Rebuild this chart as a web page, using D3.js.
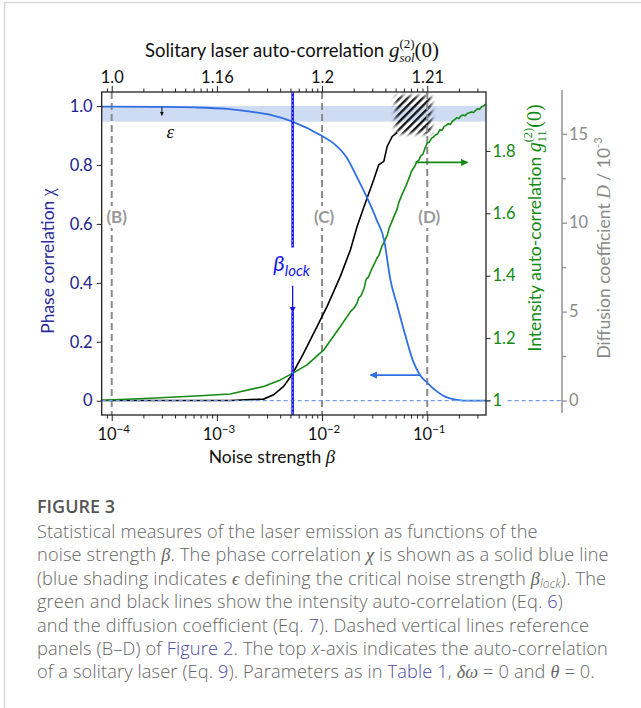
<!DOCTYPE html>
<html>
<head>
<meta charset="utf-8">
<script src="https://cdn.jsdelivr.net/npm/d3@7"></script>
<style>
body { margin: 0; background: #fff; }
text { font-family: Lato, "Open Sans", sans-serif; }
</style>
</head>
<body>
<div id="chart"></div>
<script>
// phase correlation chi (blue), x given as log10 of noise strength beta
var chiLogBeta = [-4.095, -4.0, -3.6, -3.2, -2.9, -2.68, -2.49, -2.28, -2.0, -1.89, -1.76, -1.67, -1.57, -1.48, -1.41,
  -1.35, -1.283, -1.207, -1.13, -1.064, -0.997, -0.921, -0.826, -0.73, -0.587, -0.441];
var chiValues = [0.998, 0.998, 0.997, 0.995, 0.99, 0.981, 0.97, 0.947, 0.898, 0.873, 0.822, 0.76, 0.687, 0.613, 0.545,
  0.41, 0.32, 0.22, 0.13, 0.085, 0.06, 0.035, 0.013, 0.004, 0.0, 0.0];

// diffusion coefficient D / 1e-3 (black)
var diffLogBeta = [-4.095, -3.5, -2.873, -2.556, -2.461, -2.366, -2.286, -2.175, -2.048, -1.952, -1.826, -1.73, -1.667,
  -1.588, -1.509, -1.461, -1.413, -1.381, -1.333, -1.286];
var diffValues = [0, 0, 0, 0.08, 0.32, 0.79, 1.45, 2.66, 4.16, 5.29, 6.98, 8.48, 9.79, 11.12, 12.41, 13.26, 13.45,
  14.29, 14.85, 15.06];

// intensity auto-correlation g11(2)(0) (green)
var gLogBeta = [-4.095, -3.635, -3.159, -2.873, -2.556, -2.397, -2.286, -2.143, -1.984, -1.826, -1.73,
  -1.70, -1.67, -1.65, -1.63, -1.60, -1.58, -1.56, -1.53, -1.50, -1.48, -1.46, -1.43, -1.40, -1.38, -1.36, -1.34,
  -1.31, -1.29, -1.27, -1.24, -1.22, -1.20, -1.17, -1.15, -1.12, -1.10, -1.08, -1.06, -1.04, -1.02, -1.00, -0.98,
  -0.96, -0.94, -0.92, -0.90, -0.88, -0.86, -0.84, -0.82, -0.80, -0.78, -0.76, -0.74, -0.72, -0.70, -0.68, -0.66,
  -0.64, -0.62, -0.60, -0.58, -0.56, -0.54, -0.52, -0.50, -0.48, -0.46, -0.445];
var gValues = [1.001, 1.007, 1.015, 1.021, 1.045, 1.066, 1.086, 1.114, 1.162, 1.237, 1.285,
  1.295, 1.31, 1.33, 1.335, 1.36, 1.39, 1.395, 1.42, 1.44, 1.455, 1.465, 1.495, 1.515, 1.53, 1.555, 1.57,
  1.595, 1.61, 1.635, 1.66, 1.675, 1.69, 1.715, 1.735, 1.75, 1.765, 1.77, 1.785, 1.79, 1.81, 1.825, 1.828,
  1.84, 1.845, 1.852, 1.855, 1.868, 1.866, 1.878, 1.882, 1.887, 1.885, 1.895, 1.9, 1.906, 1.904, 1.912, 1.915,
  1.913, 1.92, 1.922, 1.925, 1.923, 1.93, 1.935, 1.934, 1.942, 1.945, 1.95];

// reference lines and labels
var refBetas = [1e-4, 1e-2, 1e-1];
var refLabels = ["(B)", "(C)", "(D)"];
var betaLock = 5.25e-3;
var epsilon = 0.053;

// tick values / labels
var bottomDecades = [1e-4, 1e-3, 1e-2, 1e-1];
var bottomExponents = ["\u22124", "\u22123", "\u22122", "\u22121"];
var topLabels = ["1.0", "1.16", "1.2", "1.21"];
var chiTicks = [0, 0.2, 0.4, 0.6, 0.8, 1.0];
var chiTickLabels = ["0", "0.2", "0.4", "0.6", "0.8", "1.0"];
var gTicks = [1, 1.2, 1.4, 1.6, 1.8];
var gTickLabels = ["1", "1.2", "1.4", "1.6", "1.8"];
var dMajor = [0, 5, 10, 15];
var dMinor = [2.5, 7.5, 12.5];

var captionLines = [
  [["Statistical measures of the laser emission as functions of the"]],
  [["noise strength "], ["\u03b2", "m"], [". The phase correlation "], ["\u03c7", "m"], [" is shown as a solid blue line"]],
  [["(blue shading indicates "], ["\u03f5", "m"], [" defining the critical noise strength "], ["\u03b2", "m"], ["lock", "s"], ["). The", "u"]],
  [["green and black lines show the intensity auto-correlation (Eq. "], ["6", "l"], [")"]],
  [["and the diffusion coefficient (Eq. "], ["7", "l"], ["). Dashed vertical lines reference"]],
  [["panels (B\u2013D) of "], ["Figure 2", "l"], [". The top "], ["x", "i"], ["-axis indicates the auto-correlation"]],
  [["of a solitary laser (Eq. "], ["9", "l"], ["). Parameters as in "], ["Table 1", "l"], [", "], ["\u03b4\u03c9", "m"], [" = 0 and "], ["\u03b8", "m"], [" = 0."]]
];

var W = 641, H = 708;
var pL = 101.7, pR = 486, pT = 92, pB = 415;

var svg = d3.select("#chart").append("svg")
  .attr("width", W).attr("height", H);

var colBlue = "#2f6fe4", colNavy = "#22228c", colGreen = "#148a14", colGray = "#8a8a8a", colLock = "#1414f0";

// scales
var x = d3.scaleLog().domain([8.03e-5, 0.362]).range([pL, pR]);
var yChi = d3.scaleLinear().domain([-0.0485, 1.0475]).range([pB, pT]);
var yG = d3.scaleLinear().domain([0.9535, 1.9888]).range([pB, pT]);
var yD = d3.scaleLinear().domain([-0.815, 17.35]).range([pB, pT]);

// card border
svg.append("path").attr("d", "M4.5," + H + "V2.5H" + W)
  .attr("fill", "none").attr("stroke", "#d8d8d8").attr("stroke-width", 1.5);

var defs = svg.append("defs");
defs.append("clipPath").attr("id", "plotClip").append("rect")
  .attr("x", pL).attr("y", pT).attr("width", pR - pL).attr("height", pB - pT);

// hatch pattern for the region where D leaves the plot
var pat = defs.append("pattern").attr("id", "hatch").attr("patternUnits", "userSpaceOnUse")
  .attr("width", 5.4).attr("height", 5.4).attr("patternTransform", "rotate(45)");
pat.append("rect").attr("x", 0).attr("y", 0).attr("width", 2.3).attr("height", 5.4).attr("fill", "#111");
var blurF = defs.append("filter").attr("id", "soft").attr("x", "-30%").attr("y", "-30%").attr("width", "160%").attr("height", "160%");
blurF.append("feGaussianBlur").attr("stdDeviation", 2);
var mask = defs.append("mask").attr("id", "hatchMask").attr("maskUnits", "userSpaceOnUse")
  .attr("x", 0).attr("y", 0).attr("width", W).attr("height", H);

// arrow markers
function marker(id, color, w, h) {
  defs.append("marker").attr("id", id).attr("viewBox", "0 0 10 10").attr("refX", 9).attr("refY", 5)
    .attr("markerWidth", w).attr("markerHeight", h).attr("orient", "auto-start-reverse")
    .append("path").attr("d", "M0,0L10,5L0,10z").attr("fill", color);
}
marker("arrGreen", colGreen, 4, 4);
marker("arrBlue", colBlue, 4, 4);
marker("arrLock", colLock, 4.5, 4.5);
marker("arrBlack", "#111", 4, 4);

var plot = svg.append("g").attr("clip-path", "url(#plotClip)");

// epsilon band
plot.append("rect")
  .attr("x", pL).attr("width", pR - pL)
  .attr("y", yChi(1.0)).attr("height", yChi(1.0 - epsilon) - yChi(1.0))
  .attr("fill", "#cddbf3");

// hatched box
var hx0 = x(Math.pow(10, -1.331)), hx1 = x(Math.pow(10, -0.93));
var hy0 = yD(17.3), hy1 = yD(14.83);
mask.append("rect").attr("x", hx0 + 3).attr("y", hy0 + 3).attr("width", hx1 - hx0 - 6).attr("height", hy1 - hy0 - 6)
  .attr("fill", "#fff").attr("filter", "url(#soft)");
plot.append("rect").attr("x", hx0 - 4).attr("y", hy0 - 4).attr("width", hx1 - hx0 + 8).attr("height", hy1 - hy0 + 8)
  .attr("fill", "url(#hatch)").attr("mask", "url(#hatchMask)");

// dashed reference lines
refBetas.forEach(function(b) {
  plot.append("line").attr("x1", x(b)).attr("x2", x(b)).attr("y1", pT).attr("y2", pB)
    .attr("stroke", colGray).attr("stroke-width", 2).attr("stroke-dasharray", "7,4");
});

// zero line (chi = 0, g = 1, D = 0)
svg.append("line").attr("x1", pL).attr("x2", 562).attr("y1", yChi(0)).attr("y2", yChi(0))
  .attr("stroke", "#6f9de6").attr("stroke-width", 1.2).attr("stroke-dasharray", "4,3");

// curves
var chiLine = d3.line().x(function(d, i) { return x(Math.pow(10, chiLogBeta[i])); }).y(function(d) { return yChi(d); });
var dLine = d3.line().x(function(d, i) { return x(Math.pow(10, diffLogBeta[i])); }).y(function(d) { return yD(d); });
var gLine = d3.line().x(function(d, i) { return x(Math.pow(10, gLogBeta[i])); }).y(function(d) { return yG(d); });

plot.append("path").datum(diffValues).attr("d", dLine)
  .attr("fill", "none").attr("stroke", "#000").attr("stroke-width", 1.6);
plot.append("path").datum(gValues).attr("d", gLine)
  .attr("fill", "none").attr("stroke", colGreen).attr("stroke-width", 1.6).attr("stroke-linejoin", "round");
plot.append("path").datum(chiValues).attr("d", chiLine.curve(d3.curveMonotoneX))
  .attr("fill", "none").attr("stroke", colBlue).attr("stroke-width", 1.8);

// reference labels on white
refBetas.forEach(function(b, i) {
  var cx = x(b) + (i === 0 ? 5 : 2);
  svg.append("rect").attr("x", cx - 13).attr("y", 206).attr("width", 26).attr("height", 22).attr("fill", "#fff");
  svg.append("text").attr("x", cx).attr("y", 223).attr("text-anchor", "middle")
    .attr("fill", "#999").style("font-size", "17px").style("font-weight", "bold").text(refLabels[i]);
});

// beta lock line
var xl = x(betaLock);
[[pT, yChi(0.52)], [yChi(0.302), pB]].forEach(function(seg) {
  svg.append("line").attr("x1", xl).attr("x2", xl).attr("y1", seg[0]).attr("y2", seg[1])
    .attr("stroke", colLock).attr("stroke-width", 2.6);
  svg.append("line").attr("x1", xl).attr("x2", xl).attr("y1", seg[0]).attr("y2", seg[1])
    .attr("stroke", "#9fb0ff").attr("stroke-width", 0.8).attr("stroke-dasharray", "2,2");
});
svg.append("line").attr("x1", xl).attr("x2", xl).attr("y1", yChi(0.39)).attr("y2", yChi(0.3))
  .attr("stroke", colLock).attr("stroke-width", 1.3).attr("marker-end", "url(#arrLock)");
var lockT = svg.append("text").attr("x", xl - 1).attr("y", 271).attr("text-anchor", "middle").attr("fill", colLock);
lockT.append("tspan").text("\u03b2").style("font-style", "italic").style("font-size", "22px");
lockT.append("tspan").text("lock").style("font-style", "italic").style("font-size", "15px").attr("dy", 5);

// epsilon arrow + label
svg.append("line").attr("x1", x(3.0e-4)).attr("x2", x(3.0e-4)).attr("y1", yChi(0.996)).attr("y2", yChi(0.968))
  .attr("stroke", "#111").attr("stroke-width", 1).attr("marker-end", "url(#arrBlack)");
svg.append("text").attr("x", x(3.6e-4)).attr("y", yChi(0.893)).attr("text-anchor", "middle")
  .style("font-family", "'Liberation Serif', serif").style("font-style", "italic").style("font-size", "19px")
  .attr("fill", "#111").text("\u03b5");

// axis-pointing arrows
svg.append("line").attr("x1", x(Math.pow(10, -1.111))).attr("x2", x(Math.pow(10, -0.617)))
  .attr("y1", yG(1.763)).attr("y2", yG(1.763))
  .attr("stroke", colGreen).attr("stroke-width", 1.8).attr("marker-end", "url(#arrGreen)");
svg.append("line").attr("x1", x(Math.pow(10, -1.064))).attr("x2", x(Math.pow(10, -1.54)))
  .attr("y1", yChi(0.087)).attr("y2", yChi(0.087))
  .attr("stroke", colBlue).attr("stroke-width", 1.8).attr("marker-end", "url(#arrBlue)");

// frame
svg.append("rect").attr("x", pL).attr("y", pT).attr("width", pR - pL).attr("height", pB - pT)
  .attr("fill", "none").attr("stroke", "#222").attr("stroke-width", 1.3);

// log ticks bottom & top
var minorTicks = x.ticks().filter(function(t) { return bottomDecades.indexOf(t) < 0; });
var bAxis = svg.append("g").attr("transform", "translate(0," + pB + ")")
  .call(d3.axisBottom(x).tickValues(bottomDecades).tickSize(6).tickFormat(""));
var bMinor = svg.append("g").attr("transform", "translate(0," + pB + ")")
  .call(d3.axisBottom(x).tickValues(minorTicks).tickSize(3.5).tickFormat(""));
var tAxis = svg.append("g").attr("transform", "translate(0," + pT + ")")
  .call(d3.axisTop(x).tickValues(bottomDecades).tickSize(6).tickFormat(function(d, i) { return topLabels[i]; }));
var tMinor = svg.append("g").attr("transform", "translate(0," + pT + ")")
  .call(d3.axisTop(x).tickValues(minorTicks).tickSize(3.5).tickFormat(""));
[bAxis, bMinor, tAxis, tMinor].forEach(function(a) {
  a.select(".domain").remove();
  a.selectAll("line").attr("stroke", "#222").attr("stroke-width", 1);
});
tAxis.selectAll("text").attr("fill", "#111").style("font-size", "16.5px").attr("y", -9);

bottomDecades.forEach(function(d, i) {
  var t = svg.append("text").attr("x", x(d) + 2).attr("y", 440).attr("text-anchor", "middle").attr("fill", "#111")
    .style("font-size", "16.5px");
  t.append("tspan").text("10");
  t.append("tspan").text(bottomExponents[i]).style("font-size", "11.5px").attr("dy", -7);
});

// left chi axis
var lAxis = svg.append("g").attr("transform", "translate(" + pL + ",0)")
  .call(d3.axisLeft(yChi).tickValues(chiTicks).tickSize(5).tickPadding(4)
    .tickFormat(function(d, i) { return chiTickLabels[i]; }));
lAxis.select(".domain").remove();
lAxis.selectAll("line").attr("stroke", "#222");
lAxis.selectAll("text").attr("fill", colNavy).style("font-size", "16.5px");

// right g axis
var rAxis = svg.append("g").attr("transform", "translate(" + pR + ",0)")
  .call(d3.axisRight(yG).tickValues(gTicks).tickSize(4.5).tickPadding(2)
    .tickFormat(function(d, i) { return gTickLabels[i]; }));
rAxis.select(".domain").remove();
rAxis.selectAll("line").attr("stroke", "#222");
rAxis.selectAll("text").attr("fill", colGreen).style("font-size", "16.5px");
rAxis.selectAll(".tick").filter(function(d) { return d === 1; }).insert("rect", "text")
  .attr("x", 5).attr("y", -7).attr("width", 16).attr("height", 14).attr("fill", "#fff");

// D axis
var dx0 = 562;
var dAxis = svg.append("g").attr("transform", "translate(" + dx0 + ",0)")
  .call(d3.axisRight(yD).tickValues(dMajor).tickSize(5).tickPadding(2));
dAxis.select(".domain").remove();
svg.append("line").attr("x1", dx0).attr("x2", dx0).attr("y1", 90).attr("y2", 413)
  .attr("stroke", colGray).attr("stroke-width", 1.4);
var dMin = svg.append("g").attr("transform", "translate(" + dx0 + ",0)")
  .call(d3.axisRight(yD).tickValues(dMinor).tickSize(4).tickFormat(""));
dMin.select(".domain").remove();
[dAxis, dMin].forEach(function(a) { a.selectAll("line").attr("stroke", colGray).attr("stroke-width", 1.2); });
dAxis.selectAll("text").attr("fill", colGray).style("font-size", "16.5px");

// rich text helper: segments with stacked sub/superscripts
function richText(parent, segs) {
  var t = parent.append("text").attr("text-anchor", "middle");
  var prevW = 0, pend = 0;
  segs.forEach(function(s) {
    var ts = t.append("tspan").text(s.t);
    if (s.serif) ts.style("font-family", "'Liberation Serif', serif");
    if (s.it) ts.style("font-style", "italic");
    if (s.size) ts.style("font-size", s.size + "px");
    if (s.dy) ts.attr("dy", s.dy);
    if (s.fill) ts.attr("fill", s.fill);
    var w = ts.node().getComputedTextLength();
    if (s.stack) { ts.attr("dx", -prevW); pend = Math.max(0, prevW - w); }
    else if (pend) { ts.attr("dx", pend); pend = 0; }
    prevW = w;
  });
  return t;
}

// top title
richText(svg.append("g").attr("transform", "translate(292,57)"), [
  { t: "Solitary laser auto-correlation ", size: 18.5 },
  { t: "g", serif: 1, it: 1, size: 21 },
  { t: "(2)", serif: 1, size: 13, dy: -9 },
  { t: "sol", serif: 1, it: 1, size: 13, dy: 14, stack: 1 },
  { t: "(0)", serif: 1, size: 21, dy: -5 }
]).attr("fill", "#111");

// bottom label
richText(svg.append("g").attr("transform", "translate(272,463)"), [
  { t: "Noise strength ", size: 17.5 },
  { t: "\u03b2", serif: 1, it: 1, size: 19 }
]).attr("fill", "#111");

// left label
richText(svg.append("g").attr("transform", "translate(54,261) rotate(-90)"), [
  { t: "Phase correlation ", size: 17.5 },
  { t: "\u03c7", serif: 1, size: 18 }
]).attr("fill", "#2a2a9c");

// green label
richText(svg.append("g").attr("transform", "translate(541,228) rotate(-90)"), [
  { t: "Intensity auto-correlation ", size: 17.5 },
  { t: "g", serif: 1, it: 1, size: 20 },
  { t: "(2)", serif: 1, size: 12.5, dy: -9 },
  { t: "11", serif: 1, size: 12.5, dy: 14, stack: 1 },
  { t: "(0)", serif: 1, size: 20, dy: -5 }
]).attr("fill", colGreen);

// D label
richText(svg.append("g").attr("transform", "translate(610,248) rotate(-90)"), [
  { t: "Diffusion coefficient ", size: 17.5 },
  { t: "D", serif: 1, it: 1, size: 19 },
  { t: " / 10", size: 17.5 },
  { t: "-3", size: 11, dy: -8 }
]).attr("fill", colGray);

// caption
svg.append("text").attr("x", 37).attr("y", 513).attr("fill", "#555")
  .style("font-family", "'Open Sans', sans-serif")
  .style("font-size", "18px").style("font-weight", 600).text("FIGURE 3");
captionLines.forEach(function(line, i) {
  var t = svg.append("text").attr("x", 37).attr("y", 538 + i * 23.4).attr("fill", "#666")
    .style("font-family", "'Open Sans', sans-serif")
    .style("font-size", "18.2px").style("font-weight", 300).style("letter-spacing", "0.15px");
  line.forEach(function(p) {
    var ts = t.append("tspan").text(p[0]);
    if (p[1] === "m") ts.style("font-family", "'Liberation Serif', serif").style("font-style", "italic");
    if (p[1] === "i") ts.style("font-style", "italic");
    if (p[1] === "l") ts.attr("fill", "#4a4aa8");
    if (p[1] === "s") ts.style("font-style", "italic").style("font-size", "12px").attr("dy", 3);
    if (p[1] === "u") ts.attr("dy", -3);
  });
});
</script>
</body>
</html>
